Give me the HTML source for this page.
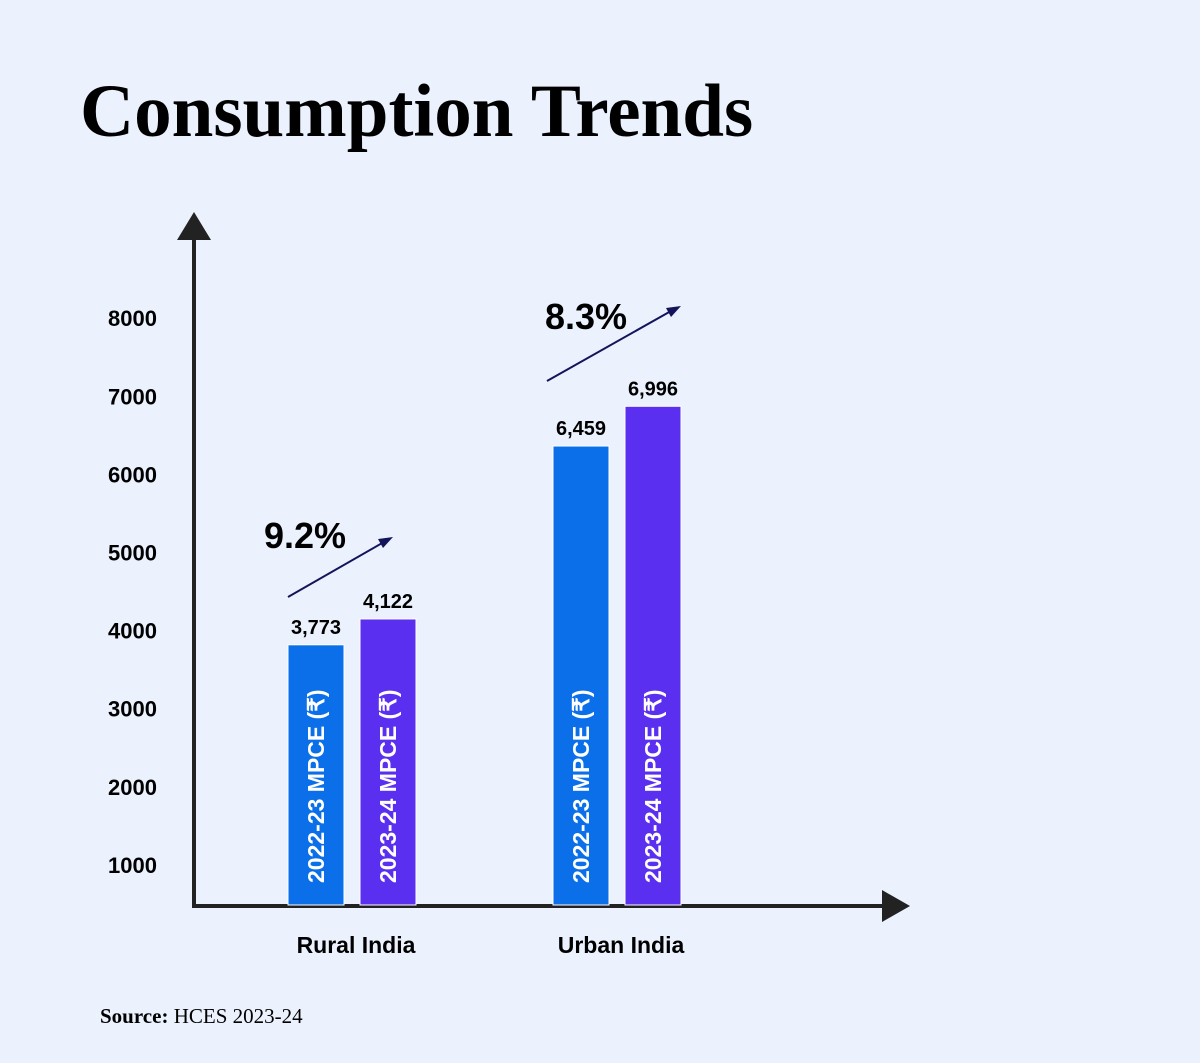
<!DOCTYPE html>
<html><head><meta charset="utf-8"><style>
body{margin:0;width:1200px;height:1058px;background:#ebf2fd;overflow:hidden;font-family:"Liberation Sans",sans-serif}
</style></head><body>
<svg width="1200" height="1058" xmlns="http://www.w3.org/2000/svg">
<rect width="1200" height="1058" fill="#ebf2fd"/>
<text x="80" y="136" font-family="Liberation Serif,serif" font-weight="bold" font-size="75" fill="#000">Consumption Trends</text>
<g id="axes">
<line x1="194" y1="232" x2="194" y2="907" stroke="#222" stroke-width="4"/>
<polygon points="177,240 194,212 211,240" fill="#222"/>
<line x1="192" y1="906" x2="890" y2="906" stroke="#222" stroke-width="4"/>
<polygon points="882,890 910,906 882,922" fill="#222"/>
</g>
<g id="ticks"></g><g id="bars"></g>
<text x="356" y="953" text-anchor="middle" font-weight="bold" font-size="23">Rural India</text>
<text x="621" y="953" text-anchor="middle" font-weight="bold" font-size="23">Urban India</text>
<g>
<text x="264" y="548" font-weight="bold" font-size="36">9.2%</text>
<line x1="288" y1="597" x2="384" y2="542" stroke="#14145a" stroke-width="2"/>
<polygon points="393,537 378,539 383,548" fill="#14145a"/>
</g>
<g>
<text x="545" y="329" font-weight="bold" font-size="36">8.3%</text>
<line x1="547" y1="381" x2="671" y2="311" stroke="#14145a" stroke-width="2"/>
<polygon points="681,306 666,308 671,317" fill="#14145a"/>
</g>
<text x="100" y="1023" font-family="Liberation Serif,serif" font-size="21"><tspan font-weight="bold">Source:</tspan> HCES 2023-24</text>
</svg>
<script>
const ticks=[1000,2000,3000,4000,5000,6000,7000,8000];
const categories=["Rural India","Urban India"];
const series2223=[3773,6459];
const series2324=[4122,6996];
const valueLabels2223=["3,773","6,459"];
const valueLabels2324=["4,122","6,996"];
const NS="http://www.w3.org/2000/svg";
function yTick(v){return 943-v*0.0781;}
function y(v){return 924-v*0.074;}
function x(ci,si){return [288,553][ci]+si*72;}
const tg=document.getElementById('ticks'),bg=document.getElementById('bars');
function mk(tag,a,p,txt){const e=document.createElementNS(NS,tag);for(const k in a)e.setAttribute(k,a[k]);if(txt)e.textContent=txt;p.appendChild(e);return e;}
ticks.forEach(t=>{const e=mk('text',{x:157,y:yTick(t)+8,'text-anchor':'end','font-weight':'bold','font-size':22},tg,String(t));

});
categories.forEach((c,ci)=>{
[[series2223,valueLabels2223,'#0a6fe9','2022-23 MPCE (₹)'],[series2324,valueLabels2324,'#5b2ff0','2023-24 MPCE (₹)']].forEach((s,si)=>{
const v=s[0][ci],bx=x(ci,si),top=y(v);
const r=mk('rect',{x:bx,y:top,width:56,height:905-top,fill:s[2],stroke:'#fff','stroke-width':1},bg);


const l=mk('text',{x:bx+28,y:top-11,'text-anchor':'middle','font-weight':'bold','font-size':20},bg,s[1][ci]);


const i=mk('text',{x:0,y:0,transform:`translate(${bx+36},883) rotate(-90)`,fill:'#fff','font-weight':'bold','font-size':23},bg,s[3]);


});});
</script>
</body></html>
